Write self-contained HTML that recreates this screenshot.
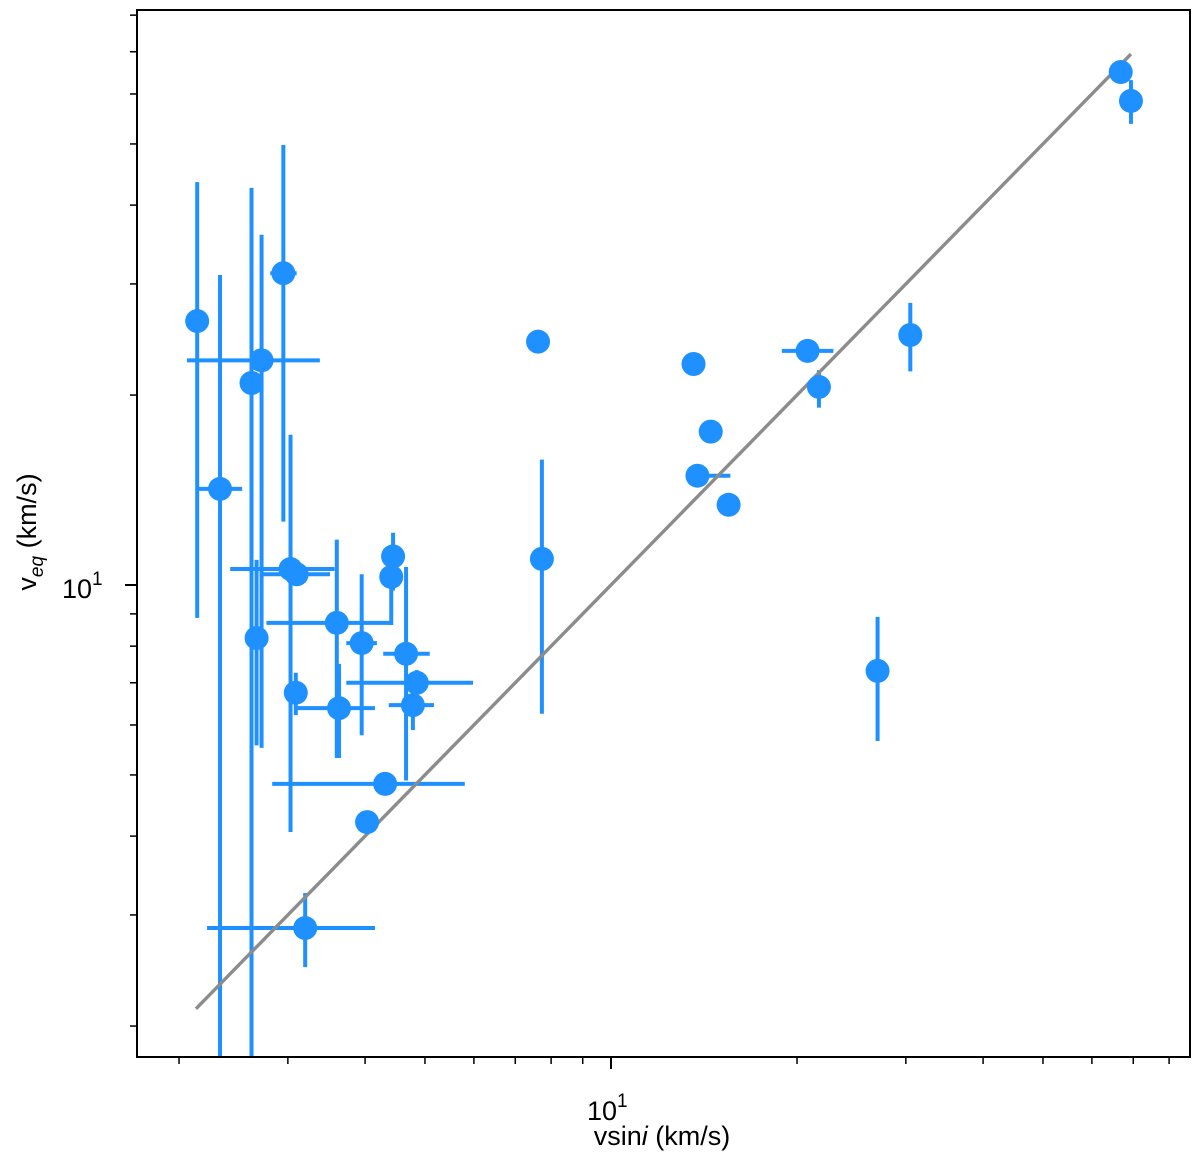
<!DOCTYPE html>
<html><head><meta charset="utf-8"><style>
html,body{margin:0;padding:0;background:#fff}
svg{display:block;font-family:"Liberation Sans","DejaVu Sans",sans-serif}
</style></head><body>
<svg id="chart" width="1200" height="1155" viewBox="0 0 1200 1155" xmlns="http://www.w3.org/2000/svg">
<rect width="1200" height="1155" fill="#fff"/>
<g id="marks"></g>
<rect x="137" y="10" width="1053" height="1047" fill="none" stroke="#000" stroke-width="2"/>
<g id="ticks"></g>
<text x="587" y="1120" font-size="27">10<tspan dy="-13" font-size="19">1</tspan></text>
<text x="62" y="598" font-size="27">10<tspan dy="-13" font-size="19">1</tspan></text>
<text x="662" y="1145" font-size="27" text-anchor="middle">vsin<tspan font-style="italic">i</tspan> (km/s)</text>
<text transform="translate(36,532) rotate(-90)" font-size="27" text-anchor="middle">v<tspan font-size="19" font-style="italic" dy="7">eq</tspan><tspan dy="-7"> (km/s)</tspan></text>
</svg>
<script>
const xVals=[2.14,2.33,2.62,2.72,2.95,2.67,3.03,3.10,3.09,3.60,3.63,3.95,4.44,4.41,4.66,4.85,4.78,4.31,4.03,3.20,7.62,7.73,13.6,13.8,14.5,15.5,20.8,21.7,30.5,27.0,66.8,69.4];
const yVals=[26.2,14.2,20.9,22.7,31.2,8.24,10.6,10.4,6.75,8.71,6.38,8.09,11.1,10.3,7.78,7.00,6.45,4.84,4.21,2.86,24.3,11.0,22.4,14.9,17.5,13.4,23.5,20.6,24.9,7.31,65.0,58.5];
const xLo=[null,2.15,null,2.06,2.81,null,2.42,2.70,null,2.77,3.10,3.73,4.28,null,4.28,3.73,4.37,2.83,null,2.22,null,null,null,13.5,null,null,18.9,null,null,null,null,null];
const xHi=[null,2.53,null,3.38,3.10,null,3.57,3.51,null,4.39,4.15,4.18,4.64,null,5.09,5.98,5.17,5.80,null,4.15,null,null,null,15.6,null,null,22.9,null,null,null,null,null];
const yHi=[43.5,31.0,42.6,35.9,49.8,10.96,17.3,null,7.26,11.8,7.5,10.4,12.1,10.8,10.68,7.33,6.8,null,null,3.25,null,15.8,null,null,null,null,null,21.9,28.0,8.90,null,63.1];
const yLo=[8.87,1.5,1.5,5.52,12.6,5.57,4.06,null,6.22,5.32,5.32,5.78,9.8,8.64,4.9,6.74,5.89,null,null,2.48,null,6.25,null,null,null,null,null,19.1,21.8,5.66,null,53.8];
const fitLine=[2.13,69.4];
const xTicks=[2,3,4,5,6,7,8,9,10,20,30,40,50,60,70,80];
const yTicks=[2,3,4,5,6,7,8,9,10,20,30,40,50,60,70,80];

const X=v=>611+618*Math.log10(v/10);
const Y=v=>585-631*Math.log10(v/10);
const T=0,B=1057,L=137,R=1190;
const cy=v=>Math.max(10,Math.min(B,Y(v)));
const ns='http://www.w3.org/2000/svg';
const marks=document.getElementById('marks');
function mk(tag,at,parent){const e=document.createElementNS(ns,tag);for(const k in at)e.setAttribute(k,at[k]);parent.appendChild(e);return e;}
const C='#1e90ff';
const errG=mk('g',{},marks);


for(let i=0;i<xVals.length;i++){
  const px=X(xVals[i]),py=Y(yVals[i]);
  if(xLo[i]!=null){const l=mk('line',{x1:X(xLo[i]),x2:X(xHi[i]),y1:py,y2:py,stroke:C,'stroke-width':4},errG);
    
    }
  if(yLo[i]!=null){const l=mk('line',{x1:px,x2:px,y1:cy(yHi[i]),y2:cy(yLo[i]),stroke:C,'stroke-width':4},errG);
    
    }
}
const fl=mk('line',{x1:X(fitLine[0]),y1:Y(fitLine[0]),x2:X(fitLine[1]),y2:Y(fitLine[1]),stroke:'#8c8c8c','stroke-width':3.4},marks);


for(let i=0;i<xVals.length;i++){
  const c=mk('circle',{cx:X(xVals[i]),cy:Y(yVals[i]),r:12,fill:C},marks);
  
  
}
const tg=document.getElementById('ticks');
xTicks.forEach(v=>{const x=X(v);const major=v===10;
  const t=mk('line',{x1:x,x2:x,y1:B,y2:B+(major?12:7),stroke:'#000','stroke-width':major?2:1.5},tg);
  
  });
yTicks.forEach(v=>{const y=Y(v);const major=v===10;
  const t=mk('line',{x1:L,x2:L-(major?12:7),y1:y,y2:y,stroke:'#000','stroke-width':major?2:1.5},tg);
  
  });
</script>
</body></html>
